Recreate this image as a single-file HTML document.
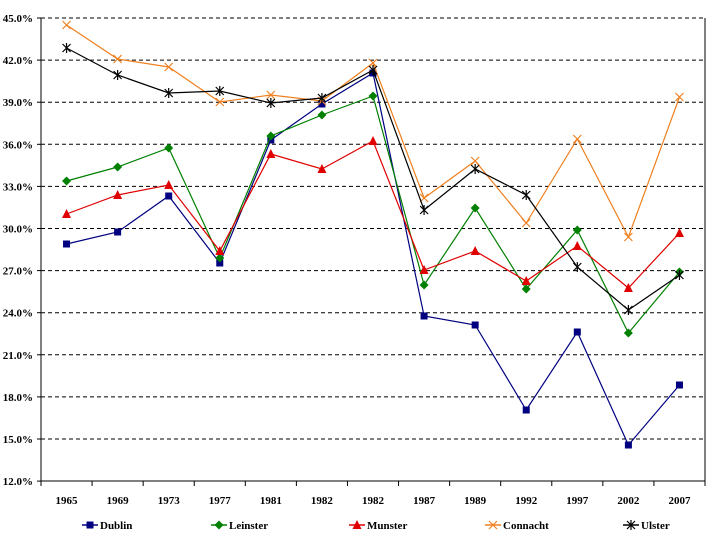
<!DOCTYPE html>
<html><head><meta charset="utf-8"><style>body{margin:0;background:#fff}svg{display:block}text{font-family:"Liberation Serif",serif;font-weight:bold;font-size:11px}</style></head><body>
<svg width="720" height="540" viewBox="0 0 720 540" xmlns="http://www.w3.org/2000/svg">
<g id="grid" stroke="#000" stroke-dasharray="4,3" stroke-width="1"></g>
<g id="axes"></g>
<g id="series"></g>
<g id="legend"></g>
<script>
var ns="http://www.w3.org/2000/svg";
function el(p,t,a,txt){var e=document.createElementNS(ns,t);for(var k in a)e.setAttribute(k,a[k]);if(txt!=null)e.textContent=txt;document.getElementById(p).appendChild(e);return e;}
var L=41,R=705,T=18,B=481,W=(R-L)/13;
for(var i=0;i<=11;i++){var y=T+i*42.1;var v=(45-3*i).toFixed(1)+"%";
 if(i<11)el("grid","line",{x1:L,x2:R,y1:y,y2:y});
 el("axes","text",{x:33,y:y+4,"text-anchor":"end",transform:"",style:"font-size:11px"},v);
 el("axes","line",{x1:L-4,x2:L,y1:y,y2:y,stroke:"#000"});}
el("axes","line",{x1:L,x2:L,y1:T,y2:B,stroke:"#000"});
el("axes","line",{x1:L,x2:R,y1:B,y2:B,stroke:"#000"});
el("axes","line",{x1:R,x2:R,y1:T,y2:B,stroke:"#000"});
var yrs=["1965","1969","1973","1977","1981","1982","1982","1987","1989","1992","1997","2002","2007"];
for(var i=0;i<=13;i++){var x=L+i*W;el("axes","line",{x1:x,x2:x,y1:B,y2:B+5,stroke:"#000"});
 if(i<13)el("axes","text",{x:x+W/2,y:504,"text-anchor":"middle"},yrs[i]);}
var S=[
["Dublin","#000080","sq",[244,232,196,263,140,104,73,316,325,410,332,445,385]],
["Leinster","#008000","di",[181,167,148,258,136,115,96,285,208,289,230,333,272]],
["Munster","#e00000","tr",[214,195,185,251,154,169,141,270,251,281,246,288,233]],
["Connacht","#f08020","x",[25,59,67,102,95,101,63,198,161,223,139,237,97]],
["Ulster","#000000","st",[48,75,93,91,103,98,70,210,169,195,267,310,275]]];
function mk(g,t,x,y,c){
 if(t=="sq")el(g,"rect",{x:x-3.5,y:y-3.5,width:7,height:7,fill:c});
 else if(t=="di")el(g,"polygon",{points:(x)+","+(y-4.5)+" "+(x+4.5)+","+y+" "+x+","+(y+4.5)+" "+(x-4.5)+","+y,fill:c});
 else if(t=="tr")el(g,"polygon",{points:x+","+(y-5)+" "+(x+4.5)+","+(y+4)+" "+(x-4.5)+","+(y+4),fill:c});
 else{el(g,"path",{d:"M"+(x-4)+" "+(y-4)+"L"+(x+4)+" "+(y+4)+"M"+(x-4)+" "+(y+4)+"L"+(x+4)+" "+(y-4)+(t=="st"?"M"+x+" "+(y-5)+"V"+(y+5):""),stroke:c,"stroke-width":1.2,fill:"none"});}
}
S.forEach(function(s){var pts=s[3].map(function(y,i){return (L+W/2+i*W).toFixed(1)+","+y;});
 el("series","polyline",{points:pts.join(" "),fill:"none",stroke:s[1],"stroke-width":1.2});
 s[3].forEach(function(y,i){mk("series",s[2],L+W/2+i*W,y,s[1]);});});
var lx=[90,219,357,493,631];
S.forEach(function(s,i){var x=lx[i];el("legend","line",{x1:x-8,x2:x+8,y1:525,y2:525,stroke:s[1],"stroke-width":1.5});
 mk("legend",s[2],x,525,s[1]);el("legend","text",{x:x+10,y:529},s[0]);});
</script>
</svg>
</body></html>
